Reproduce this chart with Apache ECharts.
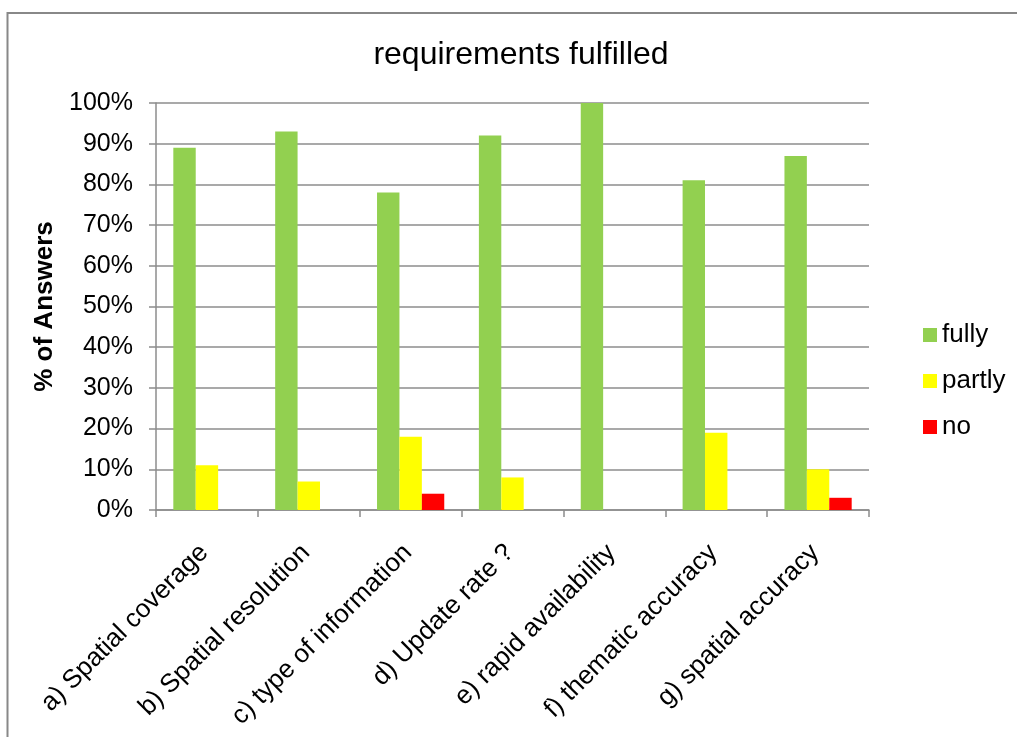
<!DOCTYPE html>
<html>
<head>
<meta charset="utf-8">
<script src="https://cdn.jsdelivr.net/npm/echarts@6/dist/echarts.min.js"></script>
<style>
  html, body { margin: 0; padding: 0; background: #fff; }
  #chart { width: 1017px; height: 737px; }
</style>
</head>
<body>
<div id="chart"></div>
<script>
// Survey results: share of answers per requirement
const categories = [
  'a) Spatial coverage',
  'b) Spatial resolution',
  'c) type of information',
  'd) Update rate ?',
  'e) rapid availability',
  'f) thematic accuracy',
  'g) spatial accuracy'
];
const fully  = [89, 93, 78, 92, 100, 81, 87];
const partly = [11, 7, 18, 8, 0, 19, 10];
const no     = [0, 0, 4, 0, 0, 0, 3];
const yTicks = [0, 10, 20, 30, 40, 50, 60, 70, 80, 90, 100];

const FONT = 'Liberation Sans, Arial, sans-serif';
const GRAY = '#8c8c8c';

const chart = echarts.init(document.getElementById('chart'), null, { renderer: 'canvas' });

function barSeries(name, data, color) {
  return {
    name: name,
    type: 'bar',
    data: data,
    barGap: '0%',
    barCategoryGap: '34%',
    itemStyle: { color: color },
    emphasis: { disabled: true }
  };
}

chart.setOption({
  animation: false,
  backgroundColor: '#ffffff',
  textStyle: { fontFamily: FONT },
  title: {
    text: 'requirements fulfilled',
    left: 516,
    top: 34,
    textAlign: 'center',
    textStyle: { fontFamily: FONT, fontSize: 32, fontWeight: 'normal', color: '#000' }
  },
  legend: {
    orient: 'vertical',
    left: 918,
    top: 317,
    itemWidth: 14,
    itemHeight: 14,
    itemGap: 20,
    icon: 'rect',
    textStyle: { fontFamily: FONT, fontSize: 26, lineHeight: 26, color: '#000' },
    data: ['fully', 'partly', 'no']
  },
  grid: { left: 156, right: 148, top: 103, bottom: 227 },
  xAxis: {
    type: 'category',
    data: categories,
    axisLine: { lineStyle: { color: GRAY, width: 1.5 } },
    axisTick: { show: true, length: 7, alignWithLabel: false, lineStyle: { color: GRAY, width: 1.5 } },
    axisLabel: {
      rotate: 45,
      interval: 0,
      margin: 36,
      fontFamily: FONT,
      fontSize: 26,
      color: '#000',
      padding: [0, 4, 0, 0]
    }
  },
  yAxis: {
    type: 'value',
    min: yTicks[0],
    max: yTicks[yTicks.length - 1],
    interval: yTicks[1] - yTicks[0],
    name: '% of Answers',
    nameLocation: 'middle',
    nameGap: 85,
    nameTextStyle: { fontFamily: FONT, fontSize: 26, fontWeight: 'bold', color: '#000' },
    axisLine: { show: true, lineStyle: { color: GRAY, width: 1.5 } },
    axisTick: { show: true, length: 7, lineStyle: { color: GRAY, width: 1.5 } },
    splitLine: { lineStyle: { color: GRAY, width: 1.5 } },
    axisLabel: {
      margin: 23,
      fontFamily: FONT,
      fontSize: 25,
      color: '#000',
      formatter: v => v + '%'
    }
  },
  series: [
    barSeries('fully', fully, '#92D050'),
    barSeries('partly', partly, '#FFFF00'),
    barSeries('no', no, '#FF0000')
  ],
  graphic: [
    // chart frame (top and left edges)
    {
      type: 'polyline',
      shape: { points: [[7.5, 737], [7.5, 13], [1017, 13]] },
      style: { stroke: '#888', lineWidth: 2, fill: null },
      silent: true
    }
  ]
});
</script>
</body>
</html>
